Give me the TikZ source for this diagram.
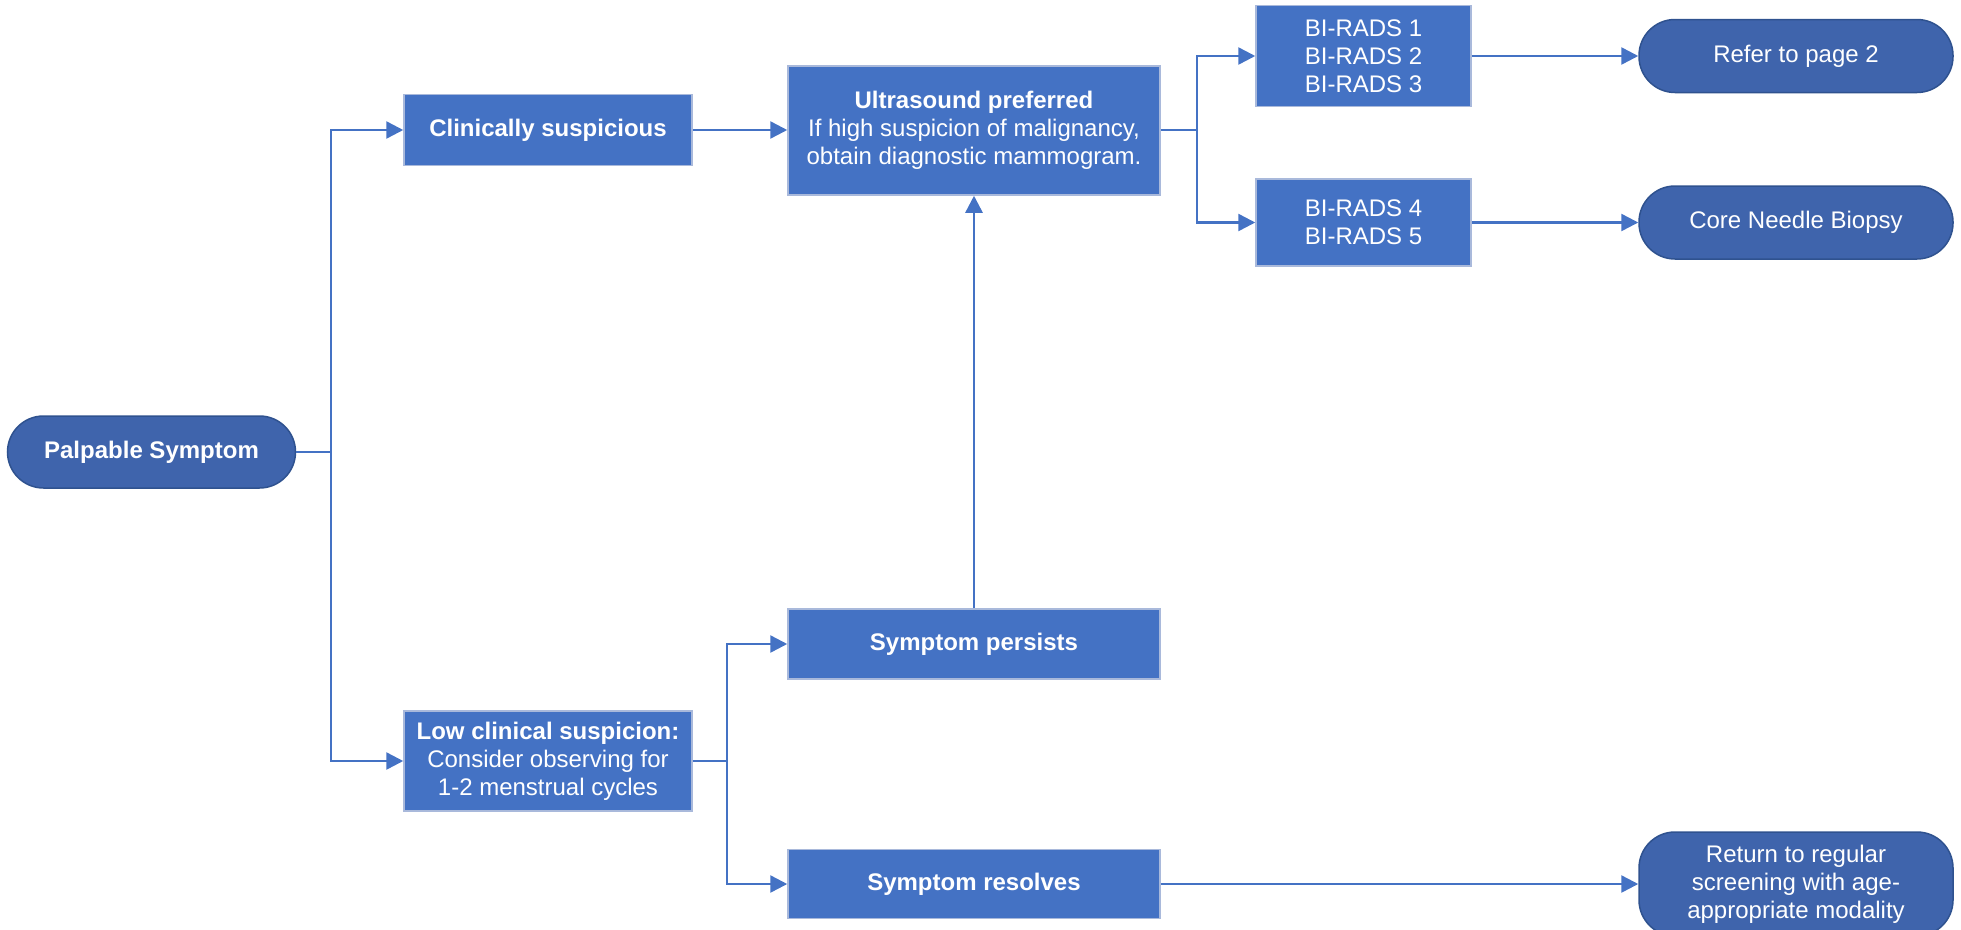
\documentclass[tikz,border=0pt]{standalone}
\usepackage{fontspec}
\setmainfont{Liberation Sans}
\usetikzlibrary{arrows.meta}
\definecolor{boxfill}{HTML}{4472C4}
\definecolor{boxline}{HTML}{A9B9DB}
\definecolor{termfill}{HTML}{3F64AC}
\definecolor{termline}{HTML}{2F528F}
\definecolor{conn}{HTML}{4472C4}
\tikzset{
  every node/.style={font=\fontsize{24}{28}\selectfont, text=white, align=center, inner sep=0pt},
  stepbox/.style={rectangle, fill=boxfill, draw=boxline, line width=1.5pt},
  term/.style={rectangle, rounded corners=36pt, fill=termfill, draw=termline, line width=1.5pt},
  conn/.style={draw=conn, line width=2.5pt},
  arr/.style={conn, -{Triangle[length=17pt,width=17pt]}},
}
\begin{document}
\begin{tikzpicture}[x=1pt,y=-1pt]
\useasboundingbox (0,0) rectangle (1961,929);
\node[term, minimum width=288pt, minimum height=72pt] (palp) at (151.5,452) {\bfseries Palpable Symptom};
\node[stepbox, minimum width=288pt, minimum height=71pt] (clin) at (548,130) {\bfseries Clinically suspicious};
\node[stepbox, minimum width=372pt, minimum height=129pt] (ultra) at (974,130.5) {\bfseries Ultrasound preferred\\If high suspicion of malignancy,\\obtain diagnostic mammogram.};
\node[stepbox, minimum width=215pt, minimum height=101pt] (bia) at (1363.5,56) {BI-RADS 1\\BI-RADS 2\\BI-RADS 3};
\node[stepbox, minimum width=215pt, minimum height=87pt] (bib) at (1363.5,222.5) {BI-RADS 4\\BI-RADS 5};
\node[term, minimum width=314pt, minimum height=73pt] (refer) at (1796,56) {Refer to page 2};
\node[term, minimum width=314pt, minimum height=73pt] (core) at (1796,222.5) {Core Needle Biopsy};
\node[stepbox, minimum width=372pt, minimum height=70pt] (pers) at (974,644) {\bfseries Symptom persists};
\node[stepbox, minimum width=288pt, minimum height=100pt] (low) at (548,761) {\bfseries Low clinical suspicion:\\Consider observing for\\1-2 menstrual cycles};
\node[stepbox, minimum width=372pt, minimum height=69pt] (res) at (974,884) {\bfseries Symptom resolves};
\node[term, minimum width=314pt, minimum height=104pt] (ret) at (1796,884) {Return to regular\\screening with age-\\appropriate modality};
\coordinate (j1) at (331,452);
\coordinate (j2) at (1197,130);
\coordinate (j3) at (727,761);
\draw[conn] (palp.east) -- (j1);
\draw[arr] (j1) |- (clin.west);
\draw[arr] (j1) |- (low.west);
\draw[arr] (clin.east) -- (clin.east -| ultra.west);
\draw[conn] (ultra.east |- j2) -- (j2);
\draw[arr] (j2) |- (bia.west);
\draw[arr] (j2) |- (bib.west);
\draw[arr] (bia.east) -- (refer.west);
\draw[arr] (bib.east) -- (core.west);
\draw[conn] (low.east) -- (j3);
\draw[arr] (j3) |- (pers.west);
\draw[arr] (j3) |- (res.west);
\draw[arr] (pers.north) -- (ultra.south);
\draw[arr] (res.east) -- (ret.west);
\end{tikzpicture}
\end{document}
